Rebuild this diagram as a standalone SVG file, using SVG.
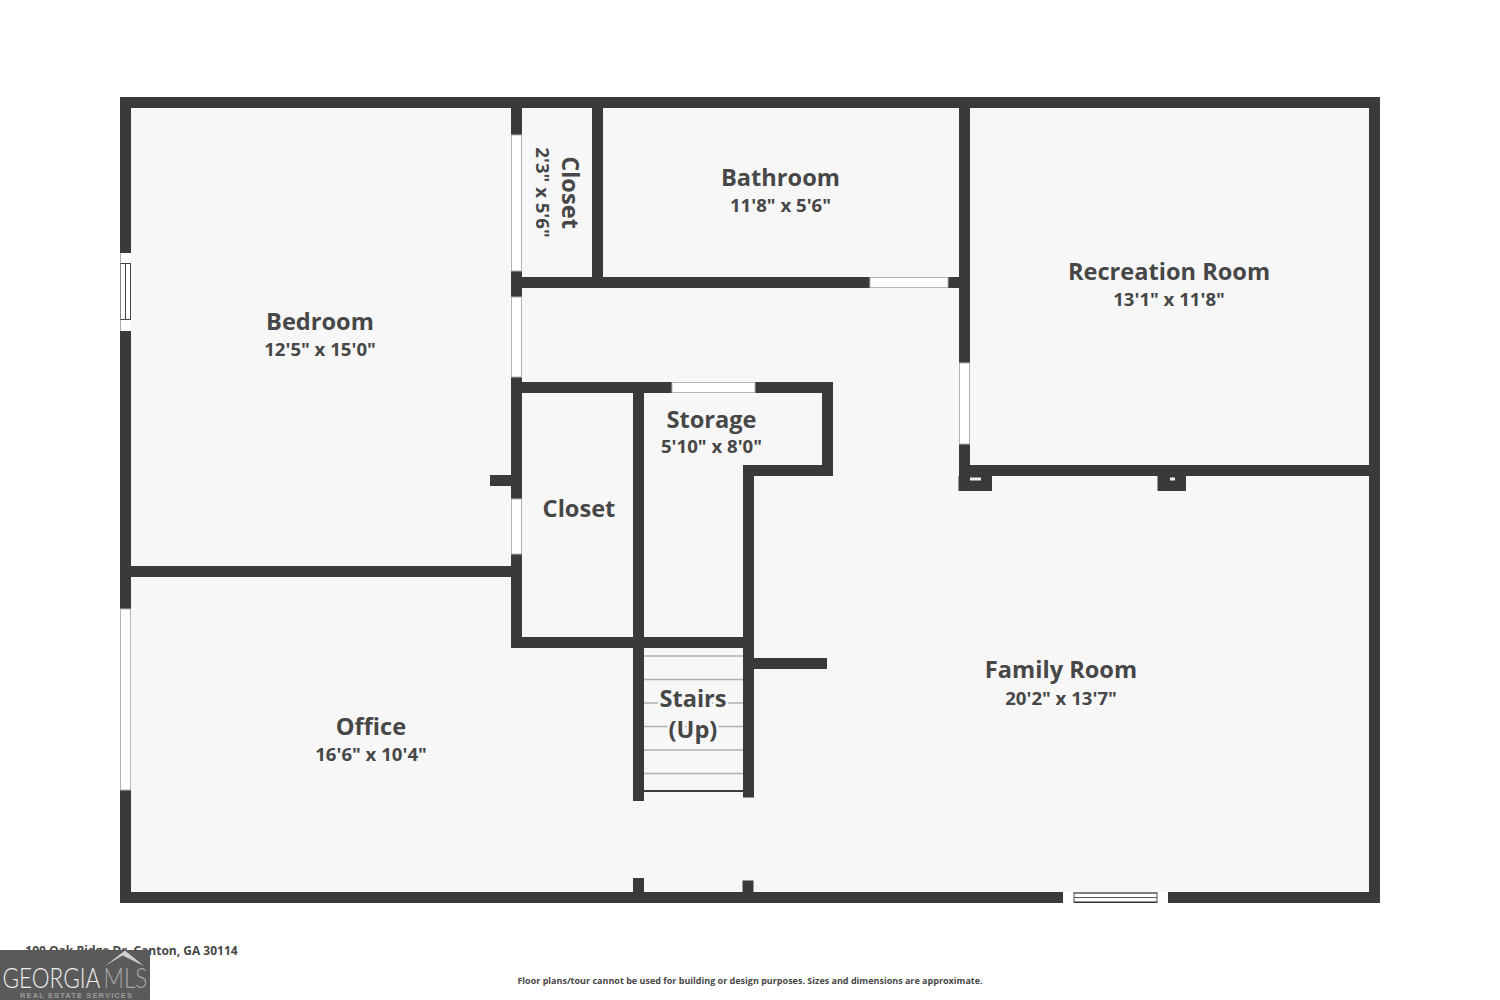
<svg xmlns="http://www.w3.org/2000/svg" width="1500" height="1000" viewBox="0 0 1500 1000">
<style>
.w{fill:#3a3a3a}
.o{fill:#fff;stroke:#b4b4b4;stroke-width:1}
.s{stroke:#b0b0b0;stroke-width:1.5;fill:none}
text{font-family:"Open Sans","Noto Sans","Liberation Sans",sans-serif;fill:#474747;text-anchor:middle;font-weight:700}
.n{font-size:23.600px}
.d{font-size:18.600px}
.h{paint-order:stroke;stroke:#f7f7f7;stroke-width:5px}
.f{font-size:9px}
.l{text-anchor:start;font-family:Lato,sans-serif;font-weight:300;font-size:26.500px}
</style>
<rect width="1500" height="1000" fill="#fff"/>
<rect x="120" y="97" width="1260" height="806" fill="#f7f7f7"/>
<g id="stairs">
<path class="s" d="M644 656H743M644 679.500H743M644 703H743M644 726.500H743M644 750H743M644 773.500H743"/>
<rect class="w" x="644" y="790" width="99" height="2"/>
</g>
<g id="walls">
<rect class="w" x="120" y="97" width="1260" height="11"/>
<rect class="w" x="120" y="892" width="1260" height="11"/>
<rect class="w" x="120" y="97" width="11" height="806"/>
<rect class="w" x="1369" y="97" width="11" height="806"/>
<rect class="w" x="511" y="97" width="11" height="38"/>
<rect class="w" x="511" y="271" width="11" height="26"/>
<rect class="w" x="511" y="377" width="11" height="122"/>
<rect class="w" x="511" y="554" width="11" height="94"/>
<rect class="w" x="592" y="97" width="11" height="191"/>
<rect class="w" x="511" y="277" width="359" height="11"/>
<rect class="w" x="948" y="277" width="22" height="11"/>
<rect class="w" x="959" y="97" width="11" height="266"/>
<rect class="w" x="959" y="444" width="11" height="32"/>
<rect class="w" x="959" y="465" width="421" height="11"/>
<rect class="w" x="958.500" y="476" width="33.500" height="15"/>
<rect class="w" x="1157.500" y="476" width="28.500" height="15"/>
<rect class="w" x="511" y="382" width="161" height="11"/>
<rect class="w" x="755" y="382" width="78" height="11"/>
<rect class="w" x="822" y="382" width="11" height="94"/>
<rect class="w" x="743" y="465" width="90" height="11"/>
<rect class="w" x="743" y="465" width="11" height="332.500"/>
<rect class="w" x="633" y="382" width="11" height="419"/>
<rect class="w" x="511" y="637" width="243" height="11"/>
<rect class="w" x="490" y="475" width="21" height="11"/>
<rect class="w" x="131" y="566" width="380" height="11"/>
<rect class="w" x="754" y="658" width="73" height="11"/>
<rect class="w" x="633" y="878" width="11" height="14"/>
<rect class="w" x="742.500" y="880.500" width="11" height="12"/>
<rect x="970" y="477.500" width="11" height="3" fill="#eee"/>
<rect x="1170" y="477.500" width="5" height="3" fill="#eee"/>
</g>
<g id="openings">
<rect class="o" x="511.500" y="135" width="10" height="136"/>
<rect class="o" x="511.500" y="297" width="10" height="80"/>
<rect class="o" x="511.500" y="499" width="10" height="55"/>
<rect class="o" x="870" y="277.500" width="78" height="10"/>
<rect class="o" x="959.500" y="363" width="10" height="81"/>
<rect class="o" x="672" y="382.500" width="83" height="10"/>
<rect class="o" x="120.500" y="609" width="10" height="181"/>
<rect x="120" y="253" width="11" height="78" fill="#fff"/>
<path d="M120.500 253V331" stroke="#aaa" stroke-width="1" fill="none"/>
<path d="M120 263.500H131M120 319.500H131M125.500 263.500V319.500M130.500 263.500V319.500" stroke="#444" stroke-width="1" fill="none"/>
<path d="M120.500 263.500V319.500" stroke="#888" stroke-width="1" fill="none"/>
<rect x="1063" y="892" width="105" height="11" fill="#fff"/>
<path d="M1074 893H1157" stroke="#808080" stroke-width="2" fill="none"/>
<path d="M1074 897.500H1157M1074 892V903M1157 892V903" stroke="#555" stroke-width="1" fill="none"/>
<path d="M1074 902.200H1157" stroke="#333" stroke-width="1.500" fill="none"/>
</g>
<g id="labels">
<text class="n" x="320" y="330">Bedroom</text>
<text class="d" x="320" y="356">12'5" x 15'0"</text>
<text class="n" x="780.500" y="186">Bathroom</text>
<text class="d" x="780.500" y="212">11'8" x 5'6"</text>
<text class="n" x="1169" y="280">Recreation Room</text>
<text class="d" x="1169" y="306">13'1" x 11'8"</text>
<text class="n" x="711.500" y="427.500">Storage</text>
<text class="d" x="711.500" y="453">5'10" x 8'0"</text>
<text class="n" x="579" y="516.500">Closet</text>
<text class="n" x="1061" y="678">Family Room</text>
<text class="d" x="1061" y="704.500">20'2" x 13'7"</text>
<text class="n" x="371" y="735">Office</text>
<text class="d" x="371" y="761">16'6" x 10'4"</text>
<text class="n h" x="693" y="707">Stairs</text>
<text class="n h" x="693" y="738">(Up)</text>
<text class="n" transform="translate(561.500 192.500) rotate(90)">Closet</text>
<text class="d" transform="translate(535.500 192.500) rotate(90)">2'3" x 5'6"</text>
</g>
<text x="131.500" y="954.500" style="font-size:12px">100 Oak Ridge Dr, Canton, GA 30114</text>
<text class="f" x="750" y="983.500">Floor plans/tour cannot be used for building or design purposes. Sizes and dimensions are approximate.</text>
<g id="logo">
<rect x="0" y="950" width="150" height="50" fill="#5a5a5a"/>
<path d="M105 966L125 950.500L144 966L122.500 955.500Z" fill="#cfcfcf"/>
<text class="l" transform="translate(2.500 987.500) scale(.85 1)" style="fill:#efefef">GEORGIA</text>
<text class="l" transform="translate(103.500 987.500) scale(.85 1)" style="fill:#a8a8a8">MLS</text>
<text x="20" y="997.500" textLength="112" style="text-anchor:start;font-family:'Liberation Sans',sans-serif;font-weight:700;font-size:7.500px;fill:#9a9a9a">REAL ESTATE SERVICES</text>
</g>
</svg>
